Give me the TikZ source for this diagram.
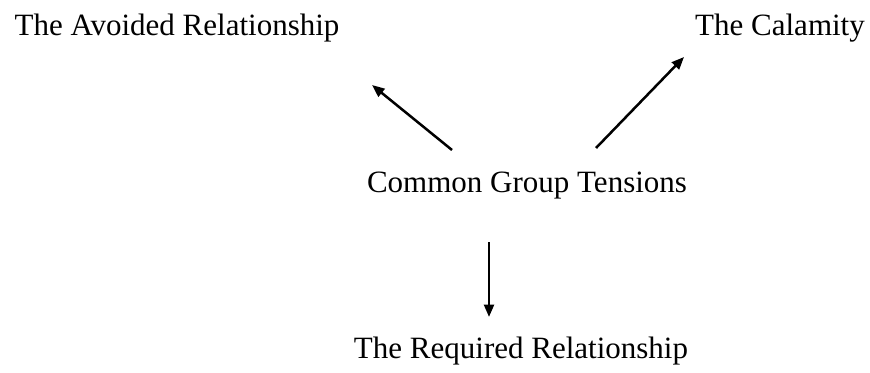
\documentclass[tikz,border=0pt]{standalone}
\usepackage{fontspec}
\setmainfont{Liberation Serif}
\usetikzlibrary{arrows.meta}

\begin{document}
\begin{tikzpicture}[
            x=0.4pt, y=-0.4pt,
            label/.style = {inner sep=0, anchor=base, font=\fontsize{12.4}{14}\selectfont},
            arrow/.style = {-{Triangle[width=4pt, length=5pt]}, line width=1pt}]
            \useasboundingbox (0,0) rectangle (870,372);
            % nodes
            \node (avoided)  [label] at (177,36)  {The Avoided Relationship};
            \node (calamity) [label] at (780,36)  {The Calamity};
            \node (tensions) [label] at (527,192) {Common Group Tensions};
            \node (required) [label] at (521,358) {The Required Relationship};
            % arrow ends
            \coordinate (t1) at (452,150);
            \coordinate (a1) at (372,85);
            \coordinate (t2) at (596,148);
            \coordinate (c2) at (684,57);
            \coordinate (t3) at (489,242);
            \coordinate (r3) at (489,317);
            % Connections
            \draw [arrow] (t1) -- (a1);
            \draw [arrow] (t2) -- (c2);
            \draw [arrow] (t3) -- (r3);
\end{tikzpicture}
\end{document}
